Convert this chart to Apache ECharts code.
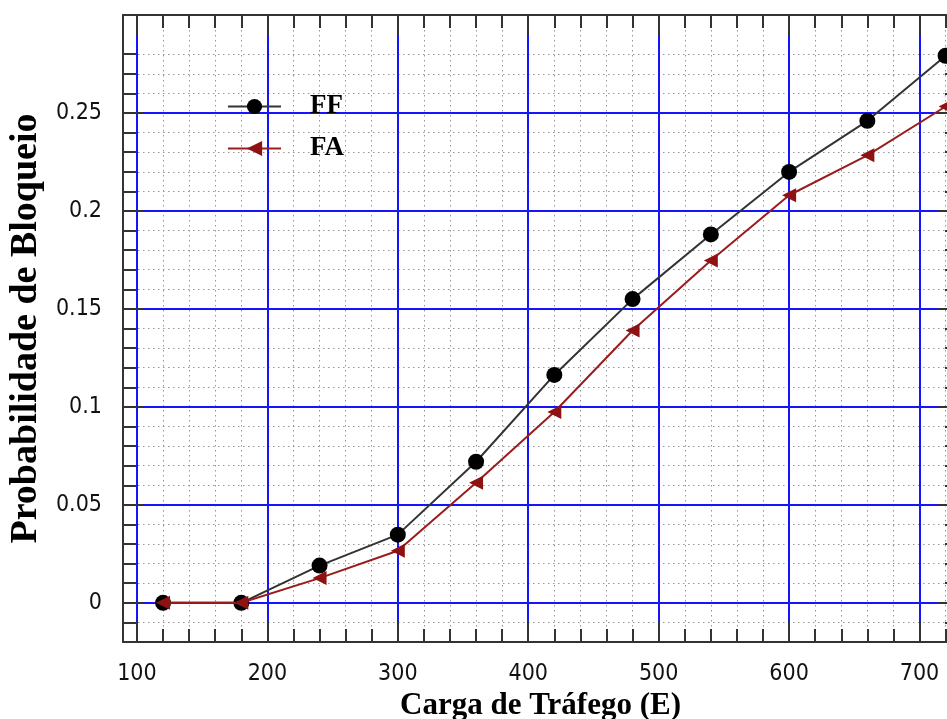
<!DOCTYPE html>
<html>
<head>
<meta charset="utf-8">
<script src="https://cdn.jsdelivr.net/npm/echarts@6/dist/echarts.min.js"></script>
<style>
  html, body { margin: 0; padding: 0; background: #ffffff; }
  #chart { width: 947px; height: 719px; }
</style>
</head>
<body>
<div id="chart"></div>
<script>
// Traffic load (Erlang) and blocking probability for the two policies
const loads = [120, 180, 240, 300, 360, 420, 480, 540, 600, 660, 720];
const blockingFF = [0, 0, 0.019, 0.0348, 0.072, 0.1163, 0.155, 0.188, 0.2199, 0.246, 0.2792];
const blockingFA = [0, 0, 0.0126, 0.0266, 0.0613, 0.0974, 0.139, 0.1747, 0.208, 0.2284, 0.2533];

// Labelled ticks
const xTickLabels = [100, 200, 300, 400, 500, 600, 700];
const yTickLabels = [0, 0.05, 0.1, 0.15, 0.2, 0.25];

// Axis ranges
const X_MIN = 89.3, X_MAX = 729.5;
const Y_MIN = -0.02, Y_MAX = 0.3;

// Minor ticks: every 20 E on x, every 0.01 on y, skipping the labelled ones
function minorTicks(start, step, count, majors) {
  const out = [];
  for (let i = 0; i < count; i++) {
    const v = +(start + i * step).toFixed(4);
    if (!majors.some(m => Math.abs(m - v) < 1e-9)) out.push(v);
  }
  return out;
}
const xMinor = minorTicks(100, 20, 32, xTickLabels).filter(v => v > X_MIN && v < X_MAX);
const yMinor = minorTicks(-0.01, 0.01, 30, yTickLabels).filter(v => v > Y_MIN && v < Y_MAX);

const FRAME = '#333333';
const MAJOR_LEN = 20, MINOR_LEN = 13;
const labelFont = { fontFamily: "'DejaVu Sans Condensed', 'Liberation Sans', sans-serif", fontSize: 23, color: '#111111' };
const nameFont = { fontFamily: "'Liberation Serif', 'DejaVu Serif', serif", fontWeight: 'bold', color: '#000000' };

function axis(kind, o) {
  const base = {
    type: 'value',
    min: kind === 'x' ? X_MIN : Y_MIN,
    max: kind === 'x' ? X_MAX : Y_MAX,
    position: o.position,
    z: o.z,
    axisLine: { show: !!o.line, onZero: false, lineStyle: { color: FRAME, width: 2 } },
    axisTick: o.ticks
      ? { show: o.tickShow !== false, inside: true, length: o.tickLen, customValues: o.ticks,
          lineStyle: { color: FRAME, width: 2 } }
      : { show: false },
    axisLabel: o.labels ? Object.assign({ show: true, customValues: o.labels, margin: 21 }, labelFont) : { show: false },
    splitLine: o.split ? { show: true, lineStyle: o.split } : { show: false },
    minorTick: { show: false },
    minorSplitLine: { show: false }
  };
  if (o.name) Object.assign(base, o.name);
  return base;
}

const dotted = { color: '#959595', width: 1, type: [1.5, 3.5] };
const blue = { color: '#1414ff', width: 2, type: 'solid' };

const xAxes = [
  axis('x', { position: 'bottom', z: 3, line: true, ticks: xTickLabels, tickLen: MAJOR_LEN, labels: xTickLabels,
    name: { name: 'Carga de Tráfego (E)', nameLocation: 'middle', nameGap: 45,
            nameTextStyle: Object.assign({ fontSize: 31 }, nameFont) } }),
  axis('x', { position: 'bottom', z: 3, ticks: xMinor, tickLen: MINOR_LEN }),
  axis('x', { position: 'top', z: 3, line: true, ticks: xTickLabels, tickLen: MAJOR_LEN }),
  axis('x', { position: 'top', z: 3, ticks: xMinor, tickLen: MINOR_LEN }),
  axis('x', { position: 'bottom', z: 0, ticks: xMinor, tickShow: false, split: dotted }),
  axis('x', { position: 'bottom', z: 1, ticks: xTickLabels, tickShow: false, split: blue })
];

const yAxes = [
  axis('y', { position: 'left', z: 3, line: true, ticks: yTickLabels, tickLen: MAJOR_LEN, labels: yTickLabels,
    name: { name: 'Probabilidade de Bloqueio', nameLocation: 'middle', nameGap: 75, nameRotate: 90,
            nameTextStyle: Object.assign({ fontSize: 38 }, nameFont) } }),
  axis('y', { position: 'left', z: 3, ticks: yMinor, tickLen: MINOR_LEN }),
  axis('y', { position: 'right', z: 3, line: true, ticks: yTickLabels, tickLen: MAJOR_LEN }),
  axis('y', { position: 'right', z: 3, ticks: yMinor, tickLen: MINOR_LEN }),
  axis('y', { position: 'left', z: 0, ticks: yMinor, tickShow: false, split: dotted }),
  axis('y', { position: 'left', z: 1, ticks: yTickLabels, tickShow: false, split: blue })
];

const pairs = vals => loads.map((x, i) => [x, vals[i]]);

const chart = echarts.init(document.getElementById('chart'), null, { renderer: 'canvas' });
chart.setOption({
  animation: false,
  backgroundColor: '#ffffff',
  grid: { left: 123, top: 15, width: 835, height: 627, containLabel: false, outerBoundsMode: 'none' },
  xAxis: xAxes,
  yAxis: yAxes,
  legend: {
    orient: 'vertical',
    left: 227,
    top: 93,
    padding: 0,
    itemWidth: 53,
    itemHeight: 19,
    itemGap: 15,
    textStyle: Object.assign({ fontSize: 27, padding: [0, 0, 0, 24] }, nameFont),
    data: ['FF', 'FA']
  },
  series: [
    {
      name: 'FF',
      type: 'line',
      xAxisIndex: 0,
      yAxisIndex: 0,
      data: pairs(blockingFF),
      symbol: 'circle',
      symbolSize: 16,
      showAllSymbol: true,
      lineStyle: { color: '#333333', width: 2 },
      itemStyle: { color: '#000000' },
      z: 3
    },
    {
      name: 'FA',
      type: 'line',
      xAxisIndex: 0,
      yAxisIndex: 0,
      data: pairs(blockingFA),
      symbol: 'triangle',
      symbolRotate: 90,
      symbolSize: 14,
      showAllSymbol: true,
      lineStyle: { color: '#9a1c1c', width: 2 },
      itemStyle: { color: '#8e1212' },
      z: 4
    }
  ]
});
</script>
</body>
</html>
